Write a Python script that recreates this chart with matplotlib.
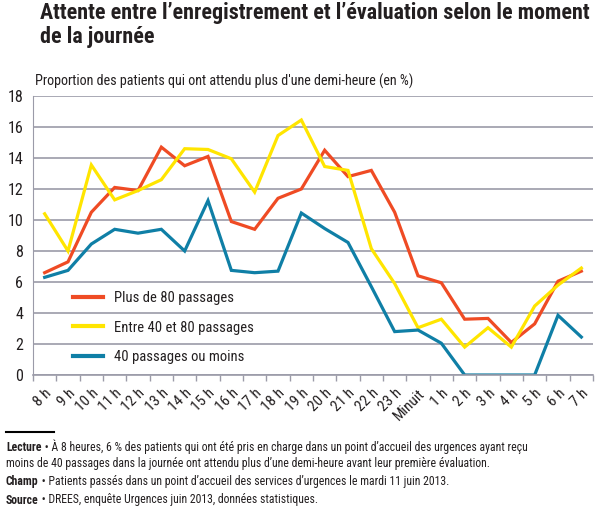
import matplotlib
matplotlib.use("Agg")
import matplotlib.pyplot as plt
import numpy as np

plt.rcParams['font.family'] = ['Roboto Condensed', 'DejaVu Sans']

# heures de la journée
heures = ["8 h", "9 h", "10 h", "11 h", "12 h", "13 h", "14 h", "15 h", "16 h",
          "17 h", "18 h", "19 h", "20 h", "21 h", "22 h", "23 h", "Minuit",
          "1 h", "2 h", "3 h", "4 h", "5 h", "6 h", "7 h"]

# proportion (en %) par taille de point d'accueil
plus_80 = [6.6, 7.3, 10.5, 12.1, 11.9, 14.7, 13.5, 14.1, 9.9, 9.4, 11.4, 12.0,
           14.5, 12.8, 13.2, 10.5, 6.4, 5.95, 3.6, 3.65, 2.1, 3.3, 6.05, 6.7]
entre_40_80 = [10.4, 8.0, 13.55, 11.3, 11.9, 12.6, 14.6, 14.55, 13.95, 11.8, 15.45, 16.45,
               13.45, 13.2, 8.15, 5.9, 3.05, 3.6, 1.8, 3.05, 1.8, 4.45, 5.8, 6.9]
moins_40 = [6.3, 6.75, 8.45, 9.4, 9.15, 9.4, 8.0, 11.25, 6.75, 6.6, 6.7, 10.45,
            9.45, 8.55, 5.7, 2.8, 2.9, 2.05, 0, 0, 0, 0, 3.85, 2.45]

rouge = "#ef4b24"
jaune = "#ffe500"
bleu = "#0f7fa6"
gris = "#9b9ba8"
texte = "#231f20"

fig = plt.figure(figsize=(6.02, 5.11), dpi=100)
ax = fig.add_axes([33 / 602, 1 - 375 / 511, 560 / 602, 279 / 511])

x = np.arange(len(heures))
ax.plot(x, plus_80, color=rouge, lw=2.3, label="Plus de 80 passages", solid_joinstyle="miter")
ax.plot(x, entre_40_80, color=jaune, lw=2.3, label="Entre 40 et 80 passages", solid_joinstyle="miter")
ax.plot(x, moins_40, color=bleu, lw=2.3, label="40 passages ou moins", solid_joinstyle="miter")

ax.set_xlim(-0.5, len(heures) - 0.5)
ax.set_ylim(0, 18)
ax.set_yticks(range(0, 19, 2))
ax.yaxis.grid(True, color=gris, lw=1.2)
ax.set_axisbelow(True)
ax.tick_params(axis="y", length=0, labelsize=11.5, colors=texte, pad=7)

ax.set_xticks(x)
ax.set_xticklabels(heures, rotation=45, ha="right", rotation_mode="anchor", fontsize=11, color=texte)
ax.set_xticks(np.arange(-0.5, len(heures)), minor=True)
ax.tick_params(axis="x", which="major", length=0, pad=8)
ax.tick_params(axis="x", which="minor", length=4, color=gris, width=1)

for s in ["top", "right"]:
    ax.spines[s].set_visible(False)
ax.spines["left"].set_color(gris)
ax.spines["bottom"].set_color(gris)
ax.spines["bottom"].set_linewidth(1.2)

leg = ax.legend(loc="lower left", bbox_to_anchor=(0.071, 0.04), frameon=False, fontsize=10.5,
                handlelength=2.1, handletextpad=0.7, labelspacing=1.05, labelcolor=texte,
                borderpad=0, borderaxespad=0)
for l in leg.get_lines():
    l.set_linewidth(3)

fig.text(40 / 602, 1 - 2 / 511, "Attente entre l\u2019enregistrement et l\u2019évaluation selon le moment\nde la journée",
         fontsize=15.8, fontweight="bold", color=texte, va="top", ha="left", linespacing=1.1)
fig.text(35 / 602, 1 - 81 / 511, "Proportion des patients qui ont attendu plus d'une demi-heure (en %)",
         fontsize=10.2, color=texte, va="center", ha="left")

# filet et notes
fig.add_artist(plt.Line2D([6 / 602, 54 / 602], [1 - 432 / 511, 1 - 432 / 511], color="black", lw=1.5))

notes = [
    ("Lecture", " \u2022 À 8 heures, 6 % des patients qui ont été pris en charge dans un point d\u2019accueil des urgences ayant reçu", 447),
    ("", "moins de 40 passages dans la journée ont attendu plus d\u2019une demi-heure avant leur première évaluation.", 464),
    ("Champ", " \u2022 Patients passés dans un point d\u2019accueil des services d\u2019urgences le mardi 11 juin 2013.", 482),
    ("Source", " \u2022 DREES, enquête Urgences juin 2013, données statistiques.", 500),
]
for gras, reste, yy in notes:
    if gras:
        t = fig.text(6 / 602, 1 - yy / 511, gras, fontsize=8.5, fontweight="bold", color=texte, va="center")
        ax.annotate(reste, xy=(1, 0.5), xycoords=t, va="center", ha="left",
                    fontsize=8.5, color=texte, annotation_clip=False)
    else:
        fig.text(6 / 602, 1 - yy / 511, reste, fontsize=8.5, color=texte, va="center")

fig.savefig("out.png", dpi=100)
